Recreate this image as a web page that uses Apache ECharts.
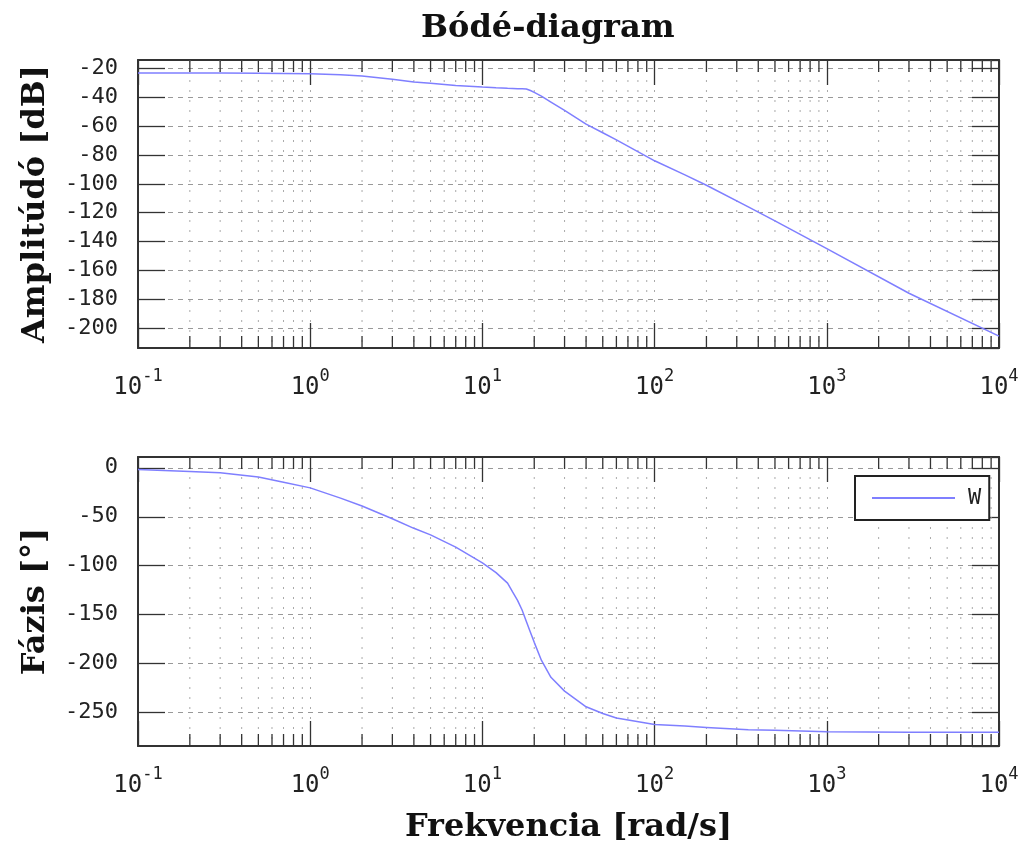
<!DOCTYPE html>
<html>
<head>
<meta charset="utf-8">
<script src="https://cdn.jsdelivr.net/npm/echarts@6/dist/echarts.min.js"></script>
<style>
  html, body { margin: 0; padding: 0; background: #fff; }
  #main { width: 1033px; height: 846px; }
</style>
</head>
<body>
<div id="main"></div>
<script>
// frequency points [rad/s]
var freq = [0.1, 0.2, 0.3, 0.5, 0.7, 1, 1.5, 2, 3, 4, 5, 7, 10, 12, 14, 15, 16, 17, 18, 19, 20, 22, 25, 30, 40, 50, 60, 100, 150, 200, 350, 500, 1000, 3000, 10000];
// amplitude [dB]
var ampDb = [-23.0, -23.0, -23.1, -23.2, -23.3, -23.5, -24.2, -25.1, -27.3, -29.3, -30.2, -31.7, -32.8, -33.3, -33.7, -33.8, -33.9, -34.0, -34.1, -35.2, -36.5, -39.1, -43.2, -49, -58.5, -64.5, -69.5, -84, -93.8, -101, -116, -125.7, -145, -176, -205.8];
// phase [deg]
var phaseDeg = [-1.7, -3.8, -5, -9.5, -14.7, -20.5, -31, -39, -52, -61.8, -68.5, -81, -97, -107, -117.7, -127, -135.3, -145.2, -156.9, -167.8, -178.2, -196.4, -213.9, -228, -244, -250.8, -255.5, -262, -263.7, -265, -267.5, -268, -269.4, -270, -270];

var decades = [-1, 0, 1, 2, 3];
var minorTicks = [];
decades.forEach(function (d) {
  for (var k = 2; k <= 9; k++) minorTicks.push(k * Math.pow(10, d));
});

var mono = 'DejaVu Sans Mono';
var serif = 'DejaVu Serif';
var lineColor = '#7f7fff';
var axisColor = '#333';

function pairs(xs, ys) {
  return xs.map(function (x, i) { return [x, ys[i]]; });
}

function xAxisFor(gridIndex, pos, withLabels, name) {
  return {
    type: 'log', logBase: 10, gridIndex: gridIndex, position: pos,
    min: 0.1, max: 10000, splitNumber: 5,
    name: name || '', nameLocation: 'middle', nameGap: 66,
    nameTextStyle: { fontFamily: serif, fontWeight: 'bold', fontSize: 32, color: '#111' },
    axisLine: { show: true, onZero: false, lineStyle: { color: axisColor, width: 2 } },
    axisTick: { show: true, inside: true, length: 25, lineStyle: { color: axisColor, width: 1.3 } },
    splitLine: { show: withLabels, lineStyle: { color: '#aaa', type: [2, 8] } },
    axisLabel: {
      show: withLabels, margin: 20,
      formatter: function (v) {
        return '{b|10}{s|' + Math.round(Math.log10(v)) + '}';
      },
      rich: {
        b: { fontFamily: mono, fontSize: 24, color: '#222', verticalAlign: 'bottom', lineHeight: 32 },
        s: { fontFamily: mono, fontSize: 17, color: '#222', verticalAlign: 'top', lineHeight: 32 }
      }
    }
  };
}

function yAxisFor(gridIndex, pos, withLabels, min, max, split, name, gap) {
  return {
    type: 'value', gridIndex: gridIndex, position: pos,
    min: min, max: max, splitNumber: split,
    name: name || '', nameLocation: 'middle', nameGap: gap || 0, nameRotate: 90,
    nameTextStyle: { fontFamily: serif, fontWeight: 'bold', fontSize: 32, color: '#111' },
    axisLine: { show: true, onZero: false, lineStyle: { color: axisColor, width: 2 } },
    axisTick: { show: true, inside: true, length: 27, lineStyle: { color: axisColor, width: 1.3 } },
    splitLine: { show: withLabels, lineStyle: { color: '#999', type: [5, 5] } },
    axisLabel: {
      show: withLabels, margin: 20, showMinLabel: false, showMaxLabel: false,
      fontFamily: mono, fontSize: 22, color: '#222'
    }
  };
}

// minor log ticks (2..9 per decade): dotted grid line plus short ticks top and bottom
function minorRender(params, api) {
  var cs = params.coordSys;
  var x = api.coord([api.value(0), api.value(1)])[0];
  var top = cs.y, bottom = cs.y + cs.height;
  return {
    type: 'group',
    children: [
      { type: 'line', shape: { x1: x, y1: top, x2: x, y2: bottom },
        style: { stroke: '#aaa', lineWidth: 1, lineDash: [2, 8] } },
      { type: 'line', shape: { x1: x, y1: top, x2: x, y2: top + 12 },
        style: { stroke: axisColor, lineWidth: 1.3 } },
      { type: 'line', shape: { x1: x, y1: bottom - 12, x2: x, y2: bottom },
        style: { stroke: axisColor, lineWidth: 1.3 } }
    ]
  };
}

var myChart = echarts.init(document.getElementById('main'));

var option = {
  backgroundColor: '#fff',
  animation: false,
  title: {
    text: 'Bódé-diagram', left: 416, top: 8,
    textStyle: { fontFamily: serif, fontWeight: 'bold', fontSize: 32, color: '#111' }
  },
  legend: {
    data: [{ name: 'W', icon: 'rect' }], left: 855, top: 476,
    padding: [9, 8, 9, 17],
    borderColor: '#222', borderWidth: 2, backgroundColor: '#fff',
    itemWidth: 83, itemHeight: 2,
    textStyle: { fontFamily: mono, fontSize: 22, color: '#222', padding: [0, 0, 0, 8], lineHeight: 26 }
  },
  grid: [
    { left: 138, top: 60, width: 861, height: 288 },
    { left: 138, top: 457, width: 861, height: 289 }
  ],
  xAxis: [
    xAxisFor(0, 'bottom', true),
    xAxisFor(0, 'top', false),
    xAxisFor(1, 'bottom', true, 'Frekvencia [rad/s]'),
    xAxisFor(1, 'top', false)
  ],
  yAxis: [
    yAxisFor(0, 'left', true, -214, -14, 10, 'Amplitúdó [dB]', 86),
    yAxisFor(0, 'right', false, -214, -14, 10),
    yAxisFor(1, 'left', true, -284, 11, 6, 'Fázis [°]', 86),
    yAxisFor(1, 'right', false, -284, 11, 6)
  ],
  series: [
    {
      type: 'custom', silent: true, xAxisIndex: 0, yAxisIndex: 0, z: 1,
      renderItem: minorRender,
      data: minorTicks.map(function (v) { return [v, -100]; })
    },
    {
      type: 'custom', silent: true, xAxisIndex: 2, yAxisIndex: 2, z: 1,
      renderItem: minorRender,
      data: minorTicks.map(function (v) { return [v, -100]; })
    },
    {
      name: 'W', type: 'line', xAxisIndex: 0, yAxisIndex: 0, z: 3,
      showSymbol: false, symbol: 'none',
      lineStyle: { color: lineColor, width: 1.5 }, itemStyle: { color: lineColor },
      data: pairs(freq, ampDb)
    },
    {
      name: 'W', type: 'line', xAxisIndex: 2, yAxisIndex: 2, z: 3,
      showSymbol: false, symbol: 'none',
      lineStyle: { color: lineColor, width: 1.5 }, itemStyle: { color: lineColor },
      data: pairs(freq, phaseDeg)
    }
  ]
};
myChart.setOption(option);
</script>
</body>
</html>
